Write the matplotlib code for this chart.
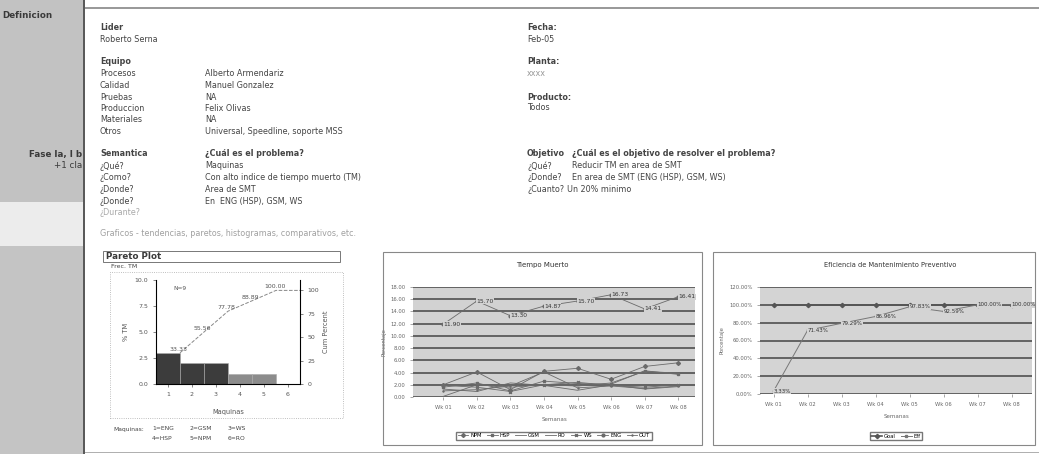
import matplotlib
matplotlib.use("Agg")
import matplotlib.pyplot as plt
from matplotlib.patches import Rectangle

W, H = 1039, 454

# --- datos ---
equipo = ["Procesos", "Calidad", "Pruebas", "Produccion", "Materiales", "Otros"]
miembros = ["Alberto Armendariz", "Manuel Gonzalez", "NA", "Felix Olivas", "NA",
            "Universal, Speedline, soporte MSS"]
preguntas = ["¿Qué?", "¿Como?", "¿Donde?", "¿Donde?"]
respuestas = ["Maquinas", "Con alto indice de tiempo muerto (TM)", "Area de SMT",
              "En  ENG (HSP), GSM, WS"]
obj_preg = ["¿Qué?", "¿Donde?", "¿Cuanto?"]
obj_resp = ["Reducir TM en area de SMT", "En area de SMT (ENG (HSP), GSM, WS)",
            "Un 20% minimo"]

maquinas = [1, 2, 3, 4, 5, 6]
frec_tm = [3, 2, 2, 1, 1, 0]
cum_pct = [33.33, 55.56, 77.78, 88.89, 100.00]

semanas = ["Wk 01", "Wk 02", "Wk 03", "Wk 04", "Wk 05", "Wk 06", "Wk 07", "Wk 08"]
tm_npm = [2.0, 4.1, 1.2, 4.2, 4.7, 2.9, 5.0, 5.6]
tm_hsp = [1.6, 2.3, 1.0, 2.6, 2.2, 2.1, 4.3, 3.7]
tm_gsm = [0.1, 2.0, 1.6, 2.0, 1.8, 2.3, 4.2, 3.9]
tm_ro = [1.3, 0.9, 2.3, 1.9, 1.1, 2.0, 1.3, 1.7]
tm_ws = [1.9, 1.6, 0.9, 2.0, 2.4, 1.9, 1.6, 2.0]
tm_out = [1.0, 1.2, 1.8, 4.1, 1.5, 1.8, 1.4, 1.8]
tm_eng = [11.90, 15.70, 13.30, 14.87, 15.70, 16.73, 14.41, 16.41]

ef_goal = [100, 100, 100, 100, 100, 100, 100, 100]
ef_real = [3.33, 71.43, 79.29, 86.96, 97.83, 92.59, 100.00, 100.00]


def box(x0, y0, x1, y1):
    return [x0 / W, 1 - y1 / H, (x1 - x0) / W, (y1 - y0) / H]


def txt(x, y, s, **kw):
    kw.setdefault("fontsize", 5.8)
    kw.setdefault("color", "#444444")
    kw.setdefault("va", "center")
    fig.text(x / W, 1 - y / H, s, **kw)


def rect(x0, y0, x1, y1, **kw):
    fig.patches.append(Rectangle((x0 / W, 1 - y1 / H), (x1 - x0) / W, (y1 - y0) / H,
                                 transform=fig.transFigure, **kw))


fig = plt.figure(figsize=(W / 100, H / 100), dpi=100)
fig.patch.set_facecolor("white")

# columna izquierda
rect(0, 0, 83, 202, facecolor="#c2c2c2", edgecolor="none")
rect(0, 202, 83, 246, facecolor="#ececec", edgecolor="none")
rect(0, 246, 83, 454, facecolor="#c4c4c4", edgecolor="none")
rect(83, 0, 85, 454, facecolor="#5a5a5a", edgecolor="none")
rect(85, 7, 1039, 8.5, facecolor="#9a9a9a", edgecolor="none")
rect(85, 452, 1039, 453, facecolor="#b0b0b0", edgecolor="none")
txt(2, 15, "Definicion", fontweight="bold", color="#3a3a3a", fontsize=6.3)
txt(82, 155, "Fase la, I b", ha="right", fontweight="bold", color="#3a3a3a", fontsize=6.3)
txt(82, 166, "+1 cla", ha="right", color="#3a3a3a", fontsize=6.3)

# texto del documento
txt(100, 27, "Lider", fontweight="bold")
txt(100, 39, "Roberto Serna")
txt(100, 62, "Equipo", fontweight="bold")
for i, (a, b) in enumerate(zip(equipo, miembros)):
    txt(100, 74 + i * 11.5, a)
    txt(205, 74 + i * 11.5, b)
txt(100, 154, "Semantica", fontweight="bold")
txt(205, 154, "¿Cuál es el problema?", fontweight="bold")
for i, (a, b) in enumerate(zip(preguntas, respuestas)):
    txt(100, 166 + i * 11.7, a)
    txt(205, 166 + i * 11.7, b)
txt(100, 212, "¿Durante?", color="#a8a8a8")
txt(100, 233, "Graficos - tendencias, paretos, histogramas, comparativos, etc.",
    color="#a0a0a0")

txt(527, 27, "Fecha:", fontweight="bold")
txt(527, 39, "Feb-05")
txt(527, 62, "Planta:", fontweight="bold")
txt(527, 73, "xxxx", color="#999999")
txt(527, 97, "Producto:", fontweight="bold")
txt(527, 108, "Todos")
txt(527, 154, "Objetivo", fontweight="bold")
txt(572, 154, "¿Cuál es el objetivo de resolver el problema?", fontweight="bold")
for i, (a, b) in enumerate(zip(obj_preg, obj_resp)):
    txt(527, 166 + i * 11.7, a)
    txt(572 if i < 2 else 567, 166 + i * 11.7, b)

# --- Pareto ---
rect(103, 251, 340, 262, facecolor="none", edgecolor="#777777", lw=0.7)
txt(106, 256.5, "Pareto Plot", fontweight="bold", fontsize=6.3, color="#3a3a3a")
txt(111, 266, "Frec. TM", fontsize=4.5)
rect(110, 272, 343, 418, facecolor="none", edgecolor="#aaaaaa", lw=0.6, ls=":")

ax = fig.add_axes(box(156, 280, 300, 384))
colores = ["#3c3c3c"] * 3 + ["#8c8c8c"] * 3
ax.bar(maquinas, frec_tm, width=1.0, color=colores, edgecolor="#aaaaaa", lw=0.4)
ax.set_xlim(0.5, 6.5)
ax.set_ylim(0, 10)
ax.set_yticks([0, 2.5, 5, 7.5, 10])
ax.set_yticklabels(["0.0", "2.5", "5.0", "7.5", "10.0"])
ax.set_xticks(maquinas)
ax.tick_params(labelsize=4.5, colors="#555555", length=2, width=0.5)
for s in ax.spines.values():
    s.set_color("#555555")
    s.set_linewidth(0.6)
ax.spines["top"].set_visible(False)
ax.set_xlabel("Maquinas", fontsize=4.8, color="#555555", labelpad=9)
ax.set_ylabel("% TM", fontsize=4.8, color="#555555", labelpad=4)
ax.text(0.12, 0.9, "N=9", transform=ax.transAxes, fontsize=4.2, color="#555555")

ax2 = ax.twinx()
ax2.set_ylim(0, 1000 / 9)
ax2.set_yticks([0, 25, 50, 75, 100])
cx = [m + 0.5 for m in maquinas[:5]]
ax2.plot(cx + [6.5], cum_pct + [100], ls="--", color="#888888", lw=0.7)
for x, v in zip(cx, cum_pct):
    ax2.text(x - 0.05, v + 1, f"{v:.2f}", fontsize=4.5, color="#555555",
             ha="center", va="bottom")
ax2.tick_params(labelsize=4.5, colors="#555555", length=2, width=0.5)
ax2.spines["top"].set_visible(False)
ax2.set_ylabel("Cum Percent", fontsize=4.8, color="#555555", labelpad=3)

txt(113, 429, "Maquinas:", fontsize=4.3)
for i, lab in enumerate(["1=ENG", "2=GSM", "3=WS", "4=HSP", "5=NPM", "6=RO"]):
    txt(152 + (i % 3) * 38, 429 + (i // 3) * 9, lab, fontsize=4.3)

# --- Tiempo Muerto ---
rect(383, 252, 702, 445, facecolor="none", edgecolor="#888888", lw=0.8)
txt(542, 265, "Tiempo Muerto", ha="center", fontsize=5, color="#333333")
ax = fig.add_axes(box(413, 287, 695, 397))
ax.set_facecolor("#d2d2d2")
x = range(len(semanas))
series = [("NPM", tm_npm, "D"), ("HSP", tm_hsp, "s"), ("GSM", tm_gsm, ""),
          ("RO", tm_ro, ""), ("WS", tm_ws, "x"), ("ENG", tm_eng, "o"),
          ("OUT", tm_out, "+")]
for nombre, vals, mk in series:
    ax.plot(x, vals, marker=mk, ms=2, lw=0.6, color="#6a6a6a", label=nombre)
for i, v in enumerate(tm_eng):
    ax.text(i, v, f"{v:.2f}", fontsize=4.3, color="#333333", ha="left", va="center",
            bbox=dict(boxstyle="square,pad=0.05", fc="#d2d2d2", ec="none"))
ax.set_ylim(0, 18)
ax.set_xlim(-0.9, 7.5)
ax.set_yticks(range(0, 19, 2))
ax.set_yticklabels([f"{v}.00" for v in range(0, 19, 2)])
ax.yaxis.grid(True, color="#444444", lw=1.1)
ax.set_axisbelow(True)
ax.set_xticks(list(x))
ax.set_xticklabels(semanas)
ax.tick_params(labelsize=3.8, colors="#666666", length=2, width=0.4)
for s in ax.spines.values():
    s.set_visible(False)
ax.set_xlabel("Semanas", fontsize=4, color="#666666", labelpad=5)
ax.set_ylabel("Porcentaje", fontsize=3.8, color="#666666", labelpad=3)
ax.legend(ncol=7, loc="upper center", bbox_to_anchor=(0.5, -0.29), fontsize=3.8,
          frameon=True, edgecolor="#555555", fancybox=False, handlelength=2,
          columnspacing=1, borderpad=0.3, handletextpad=0.4)

# --- Eficiencia de Mantenimiento Preventivo ---
rect(713, 252, 1035, 445, facecolor="none", edgecolor="#888888", lw=0.8)
txt(890, 265, "Eficiencia de Mantenimiento Preventivo", ha="center", fontsize=4.8,
    color="#333333")
ax = fig.add_axes(box(760, 287, 1032, 394))
ax.set_facecolor("#d4d4d4")
ax.plot(x, ef_goal, marker="D", ms=2.2, lw=1.2, color="#555555", label="Goal")
ax.plot(x, ef_real, marker="s", ms=2, lw=0.7, color="#777777", label="Eff")
for i, v in enumerate(ef_real):
    ax.text(i, v, f"{v:.2f}%", fontsize=4, color="#333333", ha="left", va="center",
            bbox=dict(boxstyle="square,pad=0.05", fc="#d4d4d4", ec="none"))
ax.set_ylim(0, 120)
ax.set_xlim(-0.4, 7.6)
ax.set_yticks(range(0, 121, 20))
ax.set_yticklabels([f"{v}.00%" for v in range(0, 121, 20)])
ax.yaxis.grid(True, color="#444444", lw=1.1)
ax.set_axisbelow(True)
ax.set_xticks(list(x))
ax.set_xticklabels(semanas)
ax.tick_params(labelsize=3.8, colors="#666666", length=2, width=0.4)
for s in ax.spines.values():
    s.set_visible(False)
ax.set_xlabel("Semanas", fontsize=4, color="#666666", labelpad=5)
ax.set_ylabel("Porcentaje", fontsize=3.8, color="#666666", labelpad=3)
ax.legend(ncol=2, loc="upper center", bbox_to_anchor=(0.5, -0.33), fontsize=3.8,
          frameon=True, edgecolor="#555555", fancybox=False, handlelength=2,
          columnspacing=1, borderpad=0.3, handletextpad=0.4)

fig.savefig("out.png", dpi=100)
